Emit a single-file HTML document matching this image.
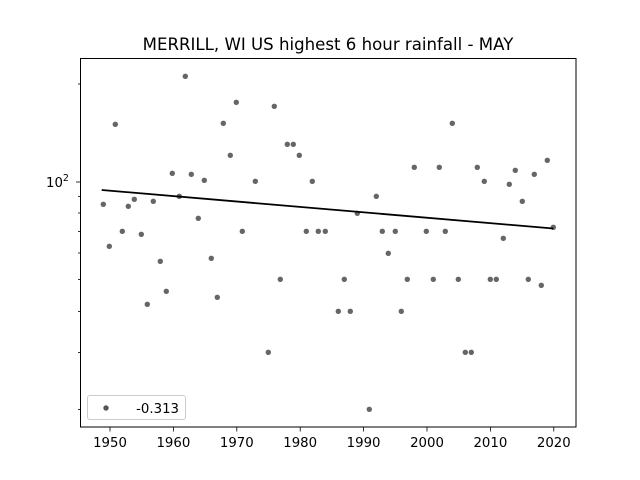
<!DOCTYPE html>
<html><head><meta charset="utf-8"><style>body{margin:0;background:#fff}svg{display:block}</style></head><body>
<svg width="640" height="480" xmlns="http://www.w3.org/2000/svg" font-family="DejaVu Sans, Liberation Sans, sans-serif">
<rect width="640" height="480" fill="#fff"/>
<text x="328" y="50" font-size="16.6" text-anchor="middle">MERRILL, WI US highest 6 hour rainfall - MAY</text>
<g fill="#555" fill-opacity="0.9">
<circle cx="103.3" cy="204.3" r="2.7"/><circle cx="109.3" cy="246.3" r="2.7"/><circle cx="115.3" cy="124.3" r="2.7"/><circle cx="122.3" cy="231.3" r="2.7"/><circle cx="128.3" cy="206.3" r="2.7"/><circle cx="134.3" cy="199.3" r="2.7"/><circle cx="141.3" cy="234.3" r="2.7"/><circle cx="147.3" cy="304.3" r="2.7"/><circle cx="153.3" cy="201.3" r="2.7"/><circle cx="160.3" cy="261.3" r="2.7"/><circle cx="166.3" cy="291.3" r="2.7"/><circle cx="172.3" cy="173.3" r="2.7"/><circle cx="179.3" cy="196.3" r="2.7"/><circle cx="185.3" cy="76.3" r="2.7"/><circle cx="191.3" cy="174.3" r="2.7"/><circle cx="198.3" cy="218.3" r="2.7"/><circle cx="204.3" cy="180.3" r="2.7"/><circle cx="211.3" cy="258.3" r="2.7"/><circle cx="217.3" cy="297.3" r="2.7"/><circle cx="223.3" cy="123.3" r="2.7"/><circle cx="230.3" cy="155.3" r="2.7"/><circle cx="236.3" cy="102.3" r="2.7"/><circle cx="242.3" cy="231.3" r="2.7"/><circle cx="255.3" cy="181.3" r="2.7"/><circle cx="268.3" cy="352.3" r="2.7"/><circle cx="274.3" cy="106.3" r="2.7"/><circle cx="280.3" cy="279.3" r="2.7"/><circle cx="287.3" cy="144.3" r="2.7"/><circle cx="293.3" cy="144.3" r="2.7"/><circle cx="299.3" cy="155.3" r="2.7"/><circle cx="306.3" cy="231.3" r="2.7"/><circle cx="312.3" cy="181.3" r="2.7"/><circle cx="318.3" cy="231.3" r="2.7"/><circle cx="325.3" cy="231.3" r="2.7"/>
<circle cx="338.3" cy="311.3" r="2.7"/><circle cx="344.3" cy="279.3" r="2.7"/><circle cx="350.3" cy="311.3" r="2.7"/><circle cx="357.3" cy="213.3" r="2.7"/><circle cx="369.3" cy="409.3" r="2.7"/><circle cx="376.3" cy="196.3" r="2.7"/><circle cx="382.3" cy="231.3" r="2.7"/><circle cx="388.3" cy="253.3" r="2.7"/><circle cx="395.3" cy="231.3" r="2.7"/><circle cx="401.3" cy="311.3" r="2.7"/><circle cx="407.3" cy="279.3" r="2.7"/><circle cx="414.3" cy="167.3" r="2.7"/><circle cx="426.3" cy="231.3" r="2.7"/><circle cx="433.3" cy="279.3" r="2.7"/><circle cx="439.3" cy="167.3" r="2.7"/><circle cx="445.3" cy="231.3" r="2.7"/><circle cx="452.3" cy="123.3" r="2.7"/><circle cx="458.3" cy="279.3" r="2.7"/><circle cx="465.3" cy="352.3" r="2.7"/><circle cx="471.3" cy="352.3" r="2.7"/><circle cx="477.3" cy="167.3" r="2.7"/><circle cx="484.3" cy="181.3" r="2.7"/><circle cx="490.3" cy="279.3" r="2.7"/><circle cx="496.3" cy="279.3" r="2.7"/><circle cx="503.3" cy="238.3" r="2.7"/><circle cx="509.3" cy="184.3" r="2.7"/><circle cx="515.3" cy="170.3" r="2.7"/><circle cx="522.3" cy="201.3" r="2.7"/><circle cx="528.3" cy="279.3" r="2.7"/><circle cx="534.3" cy="174.3" r="2.7"/><circle cx="541.3" cy="285.3" r="2.7"/><circle cx="547.3" cy="160.3" r="2.7"/><circle cx="553.3" cy="227.3" r="2.7"/>
</g>
<line x1="101.7" y1="190" x2="553.3" y2="228.5" stroke="#000" stroke-width="1.8"/>
<rect x="80.5" y="58.5" width="495.5" height="368.5" fill="none" stroke="#000" stroke-width="1"/>
<g stroke="#000" stroke-width="0.8">
<line x1="110" y1="427" x2="110" y2="431.5"/><line x1="173.4" y1="427" x2="173.4" y2="431.5"/><line x1="236.8" y1="427" x2="236.8" y2="431.5"/><line x1="300.2" y1="427" x2="300.2" y2="431.5"/><line x1="363.6" y1="427" x2="363.6" y2="431.5"/><line x1="427" y1="427" x2="427" y2="431.5"/><line x1="490.4" y1="427" x2="490.4" y2="431.5"/><line x1="553.8" y1="427" x2="553.8" y2="431.5"/>
<line x1="76" y1="182" x2="80" y2="182"/>
<line x1="78" y1="84" x2="80" y2="84"/><line x1="78" y1="196.5" x2="80" y2="196.5"/><line x1="78" y1="213" x2="80" y2="213"/><line x1="78" y1="231.5" x2="80" y2="231.5"/><line x1="78" y1="253" x2="80" y2="253"/><line x1="78" y1="279.5" x2="80" y2="279.5"/><line x1="78" y1="311.5" x2="80" y2="311.5"/><line x1="78" y1="352.5" x2="80" y2="352.5"/><line x1="78" y1="409.5" x2="80" y2="409.5"/>
</g>
<g font-size="13.3" text-anchor="middle">
<text x="110" y="447">1950</text><text x="173.4" y="447">1960</text><text x="236.8" y="447">1970</text><text x="300.2" y="447">1980</text><text x="363.6" y="447">1990</text><text x="427" y="447">2000</text><text x="490.4" y="447">2010</text><text x="553.8" y="447">2020</text>
</g>
<text x="46" y="187" font-size="13.3">10<tspan dy="-6" font-size="9.5">2</tspan></text>
<rect x="87.5" y="395.5" width="98" height="24" rx="2.5" fill="#fff" fill-opacity="0.8" stroke="#ccc"/>
<circle cx="106" cy="408" r="2.7" fill="#555"/>
<text x="179" y="413" font-size="13.3" text-anchor="end">-0.313</text>
</svg>
</body></html>
